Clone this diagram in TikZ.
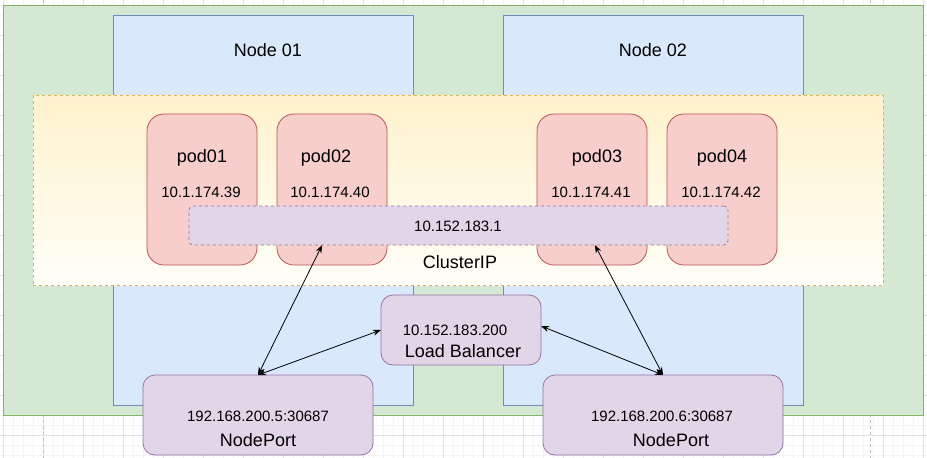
\documentclass[tikz,border=0pt]{standalone}
\usepackage{fontspec}
\setmainfont{Liberation Sans}
\usetikzlibrary{calc,arrows.meta}
\definecolor{gfill}{HTML}{D5E8D4}\definecolor{gline}{HTML}{82B366}
\definecolor{bfill}{HTML}{DAE8FC}\definecolor{bline}{HTML}{6C8EBF}
\definecolor{yfill}{HTML}{FFF2CC}\definecolor{yline}{HTML}{D6B656}
\definecolor{yend}{HTML}{FFFEF8}
\definecolor{rfill}{HTML}{F8CECC}\definecolor{rline}{HTML}{B85450}
\definecolor{pfill}{HTML}{E1D5E7}\definecolor{pline}{HTML}{9673A6}
\definecolor{gridminor}{HTML}{F4F4F4}\definecolor{gridmajor}{HTML}{E3E3E3}
\tikzset{
  box/.style={inner sep=0pt, outer sep=0pt, line width=0.8pt},
  outerbox/.style={box, draw=gline, fill=gfill},
  hostbox/.style={box, draw=bline, fill=bfill},
  clusterbox/.style={box, draw=yline, dashed, top color=yfill, bottom color=yend},
  podbox/.style={box, draw=rline, fill=rfill, rounded corners=17pt},
  svcbox/.style={box, draw=pline, fill=pfill, dashed, rounded corners=4pt},
  portbox/.style={box, draw=pline, fill=pfill, rounded corners=12pt},
  lbl/.style={inner sep=0pt, font=\fontsize{18}{20}\selectfont},
  ip/.style={inner sep=0pt, font=\fontsize{15}{17}\selectfont},
  link/.style={line width=0.8pt, {Stealth[length=8pt,width=6pt]}-{Stealth[length=8pt,width=6pt]}},
}
\begin{document}
\begin{tikzpicture}[x=1pt,y=-1pt]
\useasboundingbox (0,0) rectangle (927,458);
% grid
\foreach \x in {3,13,...,923} \draw[gridminor, line width=0.5pt] (\x,0) -- (\x,458);
\foreach \y in {5,15,...,455} \draw[gridminor, line width=0.5pt] (0,\y) -- (927,\y);
\foreach \x in {3,43,...,923} \draw[gridmajor, line width=0.6pt] (\x,0) -- (\x,458);
\foreach \y in {-5,35,...,455} \draw[gridmajor, line width=0.6pt] (0,\y) -- (927,\y);
\draw[gray!50, dashed, line width=0.6pt] (43,0) -- (43,458);
\draw[gray!50, dashed, line width=0.6pt] (870,0) -- (870,458);

% outer and host boxes
\node[outerbox, minimum width=920pt, minimum height=410pt] (cluster) at (463,210) {};
\node[hostbox, minimum width=300pt, minimum height=390pt] (node1) at (263,210) {};
\node[hostbox, minimum width=300pt, minimum height=390pt] (node2) at (653,210) {};
\node[lbl] (node1t) at (268,50) {Node 01};
\node[lbl] (node2t) at (653,50) {Node 02};

% cluster IP area
\node[clusterbox, minimum width=850pt, minimum height=190pt] (cipzone) at (458,190) {};

% pods
\node[podbox, minimum width=110pt, minimum height=151pt] (pod1) at (202,189.5) {};
\node[podbox, minimum width=110pt, minimum height=151pt] (pod2) at (332,189.5) {};
\node[podbox, minimum width=110pt, minimum height=151pt] (pod3) at (592,189.5) {};
\node[podbox, minimum width=110pt, minimum height=151pt] (pod4) at (722,189.5) {};
\node[lbl] (pod1t) at (202,158) {pod01};
\node[lbl] (pod2t) at (326,158) {pod02};
\node[lbl] (pod3t) at (597,158) {pod03};
\node[lbl] (pod4t) at (722,158) {pod04};
\node[ip] (pod1ip) at (201,192) {10.1.174.39};
\node[ip] (pod2ip) at (330,192) {10.1.174.40};
\node[ip] (pod3ip) at (591,192) {10.1.174.41};
\node[ip] (pod4ip) at (721,192) {10.1.174.42};

% service cluster ip
\node[svcbox, minimum width=539pt, minimum height=39pt] (cip) at (458.5,225.5) {};
\node[ip] (cipt) at (458,226) {10.152.183.1};
\node[lbl] (cipl) at (460,262) {ClusterIP};

% load balancer
\node[portbox, minimum width=160pt, minimum height=70pt] (lb) at (461,330) {};
\node[ip] (lbip) at (455,330) {10.152.183.200};
\node[lbl] (lbt) at (463,351) {Load Balancer};

% node ports
\node[portbox, minimum width=230pt, minimum height=80pt] (np1) at (258,415) {};
\node[portbox, minimum width=240pt, minimum height=80pt] (np2) at (663,415) {};
\node[ip] (np1ip) at (258,416) {192.168.200.5:30687};
\node[lbl] (np1t) at (258,440) {NodePort};
\node[ip] (np2ip) at (662,416) {192.168.200.6:30687};
\node[lbl] (np2t) at (671,440) {NodePort};

% connectors
\draw[link] ($(np1.north west)!0.5!(np1.north east)$) -- ($(cip.south west)!0.247!(cip.south east)$);
\draw[link] (np1.north) -- (lb.west);
\draw[link] (np2.north) -- ($(cip.south west)!0.753!(cip.south east)$);
\draw[link] (np2.north) -- ($(lb.east)+(0,-4)$);
\end{tikzpicture}
\end{document}
